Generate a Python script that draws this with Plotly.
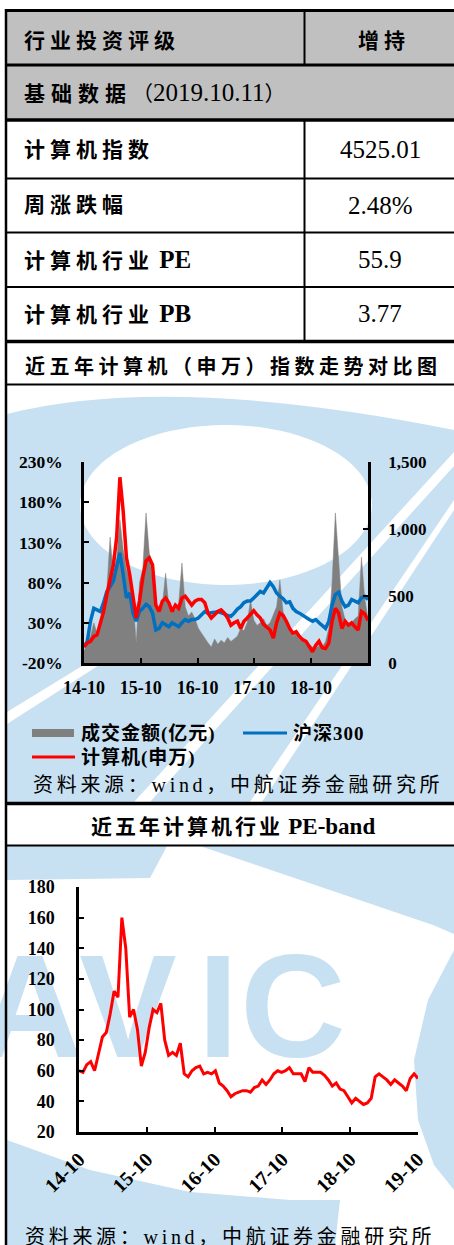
import math
import plotly.graph_objects as go

W, H = 454, 1245
LB = "rgb(199,224,242)"          # watermark blue
GRAYROW = "rgb(192,192,192)"
SERIF = "Liberation Serif, Noto Sans CJK SC, serif"
CJK = "Noto Sans CJK SC, sans-serif"

# ---------------- data ----------------
DATES = """
2014-10-10 2014-10-31 2014-11-21 2014-12-12
2015-01-02 2015-01-23 2015-02-13 2015-03-06 2015-03-27 2015-04-17 2015-05-08 2015-05-29
2015-06-19 2015-07-10 2015-07-31 2015-08-21 2015-09-11 2015-10-02 2015-10-23 2015-11-13
2015-12-04 2015-12-25
2016-01-15 2016-02-05 2016-02-26 2016-03-18 2016-04-08 2016-04-29 2016-05-20 2016-06-10
2016-07-01 2016-07-22 2016-08-12 2016-09-02 2016-09-23 2016-10-14 2016-11-04 2016-11-25
2016-12-16
2017-01-06 2017-01-27 2017-02-17 2017-03-10 2017-03-31 2017-04-21 2017-05-12 2017-06-02
2017-06-23 2017-07-14 2017-08-04 2017-08-25 2017-09-15 2017-10-06 2017-10-27 2017-11-17
2017-12-08 2017-12-29
2018-01-19 2018-02-09 2018-03-02 2018-03-23 2018-04-13 2018-05-04 2018-05-25 2018-06-15
2018-07-06 2018-07-27 2018-08-17 2018-09-07 2018-09-28 2018-10-19 2018-11-09 2018-11-30
2018-12-21
2019-01-11 2019-02-01 2019-02-22 2019-03-15 2019-04-05 2019-04-26 2019-05-17 2019-06-07
2019-06-28 2019-07-19 2019-08-09 2019-08-30 2019-09-20 2019-10-11
""".split()

# 计算机(申万) cumulative change, %
COMPUTER = [0, 5, 7, 13, 15, 30, 44, 65, 86, 102, 136, 211, 169, 111, 90, 61, 36, 57, 86, 107,
            111, 102, 52, 44, 57, 61, 55, 44, 52, 48, 61, 63, 57, 52, 57, 59, 59, 55, 42, 36,
            40, 44, 46, 42, 36, 27, 30, 32, 23, 32, 36, 41, 45, 40, 36, 28, 25, 21, 11, 30,
            42, 39, 32, 23, 17, 19, 13, 9, 7, 0, -6, 2, 7, -1, -2, 5, 32, 48, 42, 23,
            32, 27, 30, 25, 21, 44, 41, 33]
# 沪深300 cumulative change, %
CSI300 = [0, 7, 32, 48, 46, 44, 55, 69, 75, 82, 100, 117, 90, 61, 67, 42, 32, 44, 48, 53,
          50, 42, 21, 23, 30, 27, 25, 30, 27, 25, 30, 34, 32, 34, 34, 36, 40, 44, 42, 42,
          43, 44, 43, 41, 39, 38, 42, 47, 50, 55, 57, 57, 61, 65, 69, 67, 73, 80, 75, 67,
          63, 60, 55, 56, 48, 44, 42, 39, 36, 34, 32, 34, 30, 27, 23, 32, 52, 65, 68, 57,
          50, 52, 59, 57, 55, 61, 63, 59]
# 成交金额, 亿元
TURNOVER = [90, 140, 200, 300, 220, 280, 380, 550, 940, 650, 780, 1070, 850, 700, 620, 480, 150, 600, 700, 1120,
            820, 620, 450, 400, 430, 670, 420, 380, 400, 440, 746, 420, 350, 380, 330, 260, 220, 190, 150, 120,
            180, 140, 170, 150, 190, 160, 180, 200, 260, 240, 300, 470, 320, 280, 300, 330, 280, 300, 360, 420,
            620, 380, 300, 250, 200, 230, 180, 160, 170, 140, 120, 110, 130, 120, 160, 260, 600, 1120, 790, 420,
            320, 280, 300, 330, 350, 790, 480, 330]
# 计算机行业 PE (TTM)
PE = [60, 59, 64, 66, 60, 72, 82, 85, 97, 112, 108, 160, 140, 95, 100, 87, 63, 72, 88, 100,
      98, 104, 80, 70, 72, 70, 78, 58, 56, 60, 62, 63, 58, 59, 58, 60, 52, 50, 47, 43,
      45, 46, 47, 47, 46, 49, 50, 54, 51, 54, 58, 60, 59, 60, 62, 58, 58, 58, 53, 62,
      59, 59, 59, 57, 54, 50, 52, 48, 47, 43, 39, 42, 40, 38, 39, 42, 56, 58, 56, 54,
      51, 54, 52, 50, 47, 55, 58, 55]

X_TICKS = ["2014-10-10", "2015-10-10", "2016-10-10", "2017-10-10", "2018-10-10", "2019-10-10"]
X1_LABELS = ["14-10", "15-10", "16-10", "17-10", "18-10", ""]
X2_LABELS = ["14-10", "15-10", "16-10", "17-10", "18-10", "19-10"]
PCT_TICKS = [-20, 30, 80, 130, 180, 230]
PCT_LABELS = ["-20%", "30%", "80%", "130%", "180%", "230%"]
AMT_TICKS = [0, 500, 1000, 1500]
AMT_LABELS = ["0", "500", "1,000", "1,500"]
PE_TICKS = [20, 40, 60, 80, 100, 120, 140, 160, 180]

RATING = ("行业投资评级", "增持")
BASE_DATE = "2019.10.11"
TABLE_ROWS = [("计算机指数", "", "4525.01"),
              ("周涨跌幅", "", "2.48%"),
              ("计算机行业", "PE", "55.9"),
              ("计算机行业", "PB", "3.77")]
TITLE1 = "近五年计算机（申万）指数走势对比图"
TITLE2_CN, TITLE2_EN = "近五年计算机行业", "PE-band"
LEGEND = ["成交金额(亿元)", "沪深300", "计算机(申万)"]
SOURCE = "资料来源：wind，中航证券金融研究所"
WATERMARK = ["A", "V", "I", "C"]


# ---------------- helpers (page pixels -> paper) ----------------
def fx(x):
    return x / W


def fy(y):
    return 1 - y / H


def pt(x, y):
    return f"{fx(x):.5f},{fy(y):.5f}"


shapes = []


def poly(points, color, layer="below"):
    path = "M " + " L ".join(pt(x, y) for x, y in points) + " Z"
    shapes.append(dict(type="path", xref="paper", yref="paper", path=path,
                       fillcolor=color, line=dict(width=0), layer=layer))


def ellipse(cx, cy, rx, ry, color, n=90):
    pts = [(cx + rx * math.cos(2 * math.pi * k / n), cy + ry * math.sin(2 * math.pi * k / n))
           for k in range(n)]
    poly(pts, color)


def rect(x0, y0, x1, y1, color, layer="below"):
    shapes.append(dict(type="rect", xref="paper", yref="paper", x0=fx(x0), x1=fx(x1),
                       y0=fy(y1), y1=fy(y0), fillcolor=color, line=dict(width=0), layer=layer))


def hline(y, x0, x1, w, color="black"):
    shapes.append(dict(type="line", xref="paper", yref="paper", x0=fx(x0), x1=fx(x1),
                       y0=fy(y), y1=fy(y), line=dict(color=color, width=w), layer="above"))


def vline(x, y0, y1, w):
    shapes.append(dict(type="line", xref="paper", yref="paper", x0=fx(x), x1=fx(x),
                       y0=fy(y0), y1=fy(y1), line=dict(color="black", width=w), layer="above"))


annotations = []


def text(x, y, s, size, family=SERIF, weight="normal", xanchor="left"):
    annotations.append(dict(x=fx(x), y=fy(y), xref="paper", yref="paper", text=s,
                            showarrow=False, xanchor=xanchor, yanchor="middle",
                            font=dict(family=family, size=size, color="black", weight=weight)))


def spaced(s, px):
    return f'<span style="letter-spacing:{px}px">{s}</span>'


# ---------------- watermark ----------------
# upper block: arched band with white core and light streaks
rect(7, 386, W, 802, LB)
shapes.append(dict(type="path", xref="paper", yref="paper",
                   path=f"M {pt(7, 386)} L {pt(W, 386)} L {pt(W, 430)} Q {pt(170, 373)} {pt(7, 414)} Z",
                   fillcolor="white", line=dict(width=0), layer="below"))
ellipse(226, 505, 146, 80, "white")
poly([(W, 452), (W, 466), (150, 802), (134, 802)], "white")
poly([(W, 500), (W, 510), (262, 802), (250, 802)], "white")
poly([(7, 712), (100, 655), (104, 662), (7, 724)], "white")

# lower block: bands around the lettering
poly([(7, 846), (167, 846), (150, 878), (7, 880)], LB)
poly([(200, 846), (W, 846), (W, 934), (433, 925)], LB)
poly([(W, 950), (428, 1000), (414, 1060), (418, 1120), (434, 1165), (W, 1190)], LB)
poly([(7, 1140), (90, 1170), (190, 1192), (290, 1200), (340, 1200), (335, 1245), (7, 1245)], LB)

# ---------------- table ----------------
rect(6, 10, W, 120, GRAYROW)
for y, w in [(10.5, 3), (65, 3), (120, 3.5), (178.5, 2), (232.5, 2), (287, 2),
             (341.5, 3.5), (384.5, 2), (803.5, 3.5), (845.5, 2)]:
    hline(y, 5, W, w)
vline(6, 9, H, 2.5)
vline(304.5, 10, 65, 2)
vline(304.5, 120, 341.5, 2)

text(22, 39, spaced(RATING[0], 5), 21, CJK, "bold")
text(384, 39, spaced(RATING[1], 5), 21, CJK, "bold", "center")
text(22, 93, f'<b>{spaced("基础数据", 6)}</b>（<span style="font-size:25px">{BASE_DATE}</span>）',
     21, SERIF)
row_centres = [150, 205, 260, 313]
for (label, latin, value), yc in zip(TABLE_ROWS, row_centres):
    s = spaced(label, 5)
    if latin:
        s += f' <span style="font-size:25px">{latin}</span>'
    text(22, yc, s, 21, SERIF, "bold")
    text(380, yc, value, 25, SERIF, "normal", "center")

text(233, 365, spaced(TITLE1, 4.5), 20, CJK, "bold", "center")
text(233, 826, spaced(TITLE2_CN, 3) + f' <span style="font-size:23px">{TITLE2_EN}</span>',
     21, SERIF, "bold", "center")

# ---------------- legend + sources ----------------
rect(32, 729, 74, 737, "rgb(128,128,128)", layer="above")
hline(733, 243, 287, 3, "rgb(0,112,192)")
hline(757, 32, 75, 3, "rgb(255,0,0)")
text(79, 733, spaced(LEGEND[0], 1), 19, SERIF, "bold")
text(291, 733, spaced(LEGEND[1], 1), 19, SERIF, "bold")
text(79, 757, spaced(LEGEND[2], 1), 19, SERIF, "bold")
text(31, 785, spaced(SOURCE, 3.7), 20, SERIF)
text(23, 1237, spaced(SOURCE, 3.7), 20, SERIF)

# ---------------- figure ----------------
fig = go.Figure()

# watermark lettering on a page-sized canvas underneath the charts
fig.add_trace(go.Scatter(x=[30, 128, 218, 293], y=[1020] * 4, text=WATERMARK, mode="text",
                         textposition="middle center", cliponaxis=False,
                         textfont=dict(family="Liberation Sans", size=146, color=LB, weight="bold"),
                         xaxis="x", yaxis="y", hoverinfo="skip", showlegend=False))

fig.add_trace(go.Scatter(x=DATES, y=TURNOVER, mode="lines", fill="tozeroy",
                         line=dict(width=0.5, color="rgb(128,128,128)"),
                         fillcolor="rgb(128,128,128)", name=LEGEND[0],
                         xaxis="x2", yaxis="y2", showlegend=False))
fig.add_trace(go.Scatter(x=DATES, y=CSI300, mode="lines", line=dict(width=3.5, color="rgb(0,112,192)"),
                         name=LEGEND[1], xaxis="x2", yaxis="y3", showlegend=False))
fig.add_trace(go.Scatter(x=DATES, y=COMPUTER, mode="lines", line=dict(width=3.5, color="rgb(255,0,0)"),
                         name=LEGEND[2], xaxis="x2", yaxis="y3", showlegend=False))
fig.add_trace(go.Scatter(x=DATES, y=PE, mode="lines", line=dict(width=3, color="rgb(255,0,0)"),
                         name="PE", xaxis="x3", yaxis="y4", showlegend=False))

axis_common = dict(showline=True, linecolor="black", linewidth=2.5, ticks="inside", ticklen=5,
                   tickwidth=2, tickcolor="black", showgrid=False, zeroline=False,
                   fixedrange=True, automargin=False)
tick_font = dict(family=SERIF, size=17, color="black", weight="bold")

fig.update_layout(
    width=W, height=H, autosize=False,
    margin=dict(l=0, r=0, t=0, b=0, pad=0),
    paper_bgcolor="white", plot_bgcolor="rgba(0,0,0,0)",
    showlegend=False,
    xaxis=dict(domain=[0, 1], range=[0, W], visible=False, fixedrange=True, anchor="y",
               automargin=False),
    yaxis=dict(domain=[0, 1], range=[H, 0], visible=False, fixedrange=True, anchor="x",
               automargin=False),
    xaxis2=dict(axis_common, domain=[fx(84), fx(368)], anchor="y2", type="date",
                range=["2014-10-10", "2019-10-11"], tickvals=X_TICKS, ticktext=X1_LABELS,
                tickfont=dict(tick_font, size=18), ticklabelstandoff=7),
    yaxis2=dict(axis_common, domain=[fy(663), fy(462)], anchor="x2", side="right",
                range=[0, 1500], tickvals=AMT_TICKS, ticktext=AMT_LABELS, tickfont=tick_font,
                ticklabelstandoff=14),
    yaxis3=dict(axis_common, overlaying="y2", anchor="x2", side="left",
                range=[-20, 230], tickvals=PCT_TICKS, ticktext=PCT_LABELS,
                tickfont=dict(tick_font, size=17.5), ticklabelstandoff=15),
    xaxis3=dict(axis_common, domain=[fx(79), fx(418)], anchor="y4", type="date",
                range=["2014-10-10", "2019-10-11"], tickvals=X_TICKS, ticktext=X2_LABELS,
                tickangle=-45, tickfont=dict(tick_font, size=20), ticklabelstandoff=5),
    yaxis4=dict(axis_common, domain=[fy(1132), fy(887)], anchor="x3",
                range=[20, 180], tickvals=PE_TICKS, tickfont=dict(tick_font, size=18),
                ticklabelstandoff=18),
    shapes=shapes,
    annotations=annotations,
)

fig.write_html("out.html")
